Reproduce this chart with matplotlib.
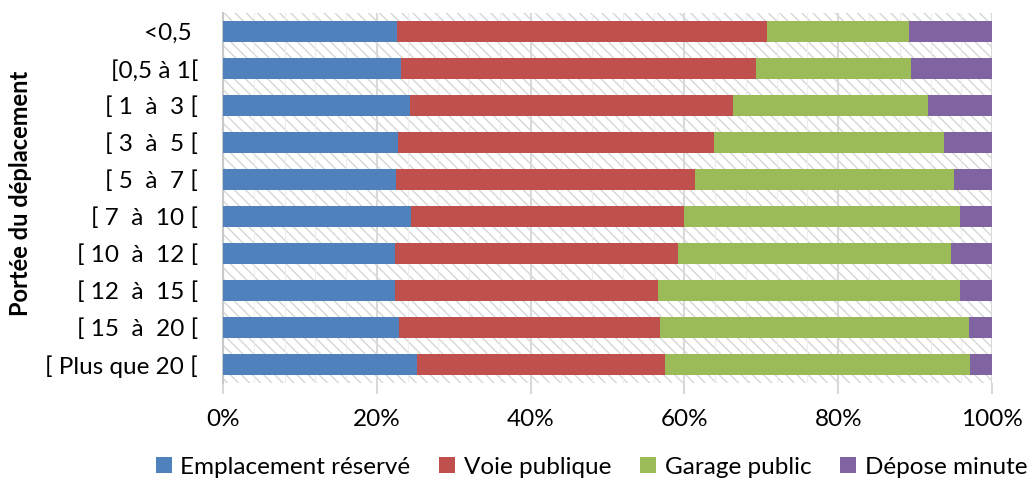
import matplotlib
matplotlib.use("Agg")
import matplotlib.pyplot as plt
from matplotlib.patches import Patch, Rectangle
from matplotlib.ticker import MultipleLocator, PercentFormatter
import numpy as np

plt.rcParams['font.family'] = ['Lato', 'DejaVu Sans']
plt.rcParams['hatch.linewidth'] = 1.0

# categories, top to bottom
categories = ['<0,5 ', '[0,5 à 1[', '[ 1  à  3 [', '[ 3  à  5 [', '[ 5  à  7 [',
              '[ 7  à  10 [', '[ 10  à  12 [', '[ 12  à  15 [', '[ 15  à  20 [',
              '[ Plus que 20 [']

# shares in %
emplacement = [22.6, 23.1, 24.3, 22.8, 22.5, 24.5, 22.4, 22.3, 22.9, 25.2]
voie = [48.1, 46.2, 42.0, 41.0, 38.9, 35.4, 36.8, 34.2, 33.9, 32.3]
garage = [18.5, 20.2, 25.4, 30.0, 33.7, 36.0, 35.5, 39.4, 40.2, 39.6]
depose = [10.8, 10.5, 8.3, 6.2, 4.9, 4.1, 5.3, 4.1, 3.0, 2.9]

series = ['Emplacement réservé', 'Voie publique', 'Garage public', 'Dépose minute']
colors = ['#4F81BD', '#C0504D', '#9BBB59', '#8064A2']

fig = plt.figure(figsize=(10.34, 4.79), dpi=100)
ax = fig.add_axes([0.2157, 0.2004, 0.9594 - 0.2157, 0.9729 - 0.2004])

# hatched background
ax.add_patch(Rectangle((0, 0), 1, 1, transform=ax.transAxes, facecolor='white',
                       edgecolor='#d6d6d6', hatch='\\\\\\', lw=0, zorder=0))

y = np.arange(len(categories))
left = np.zeros(len(categories))
for vals, name, c in zip([emplacement, voie, garage, depose], series, colors):
    ax.barh(y, vals, left=left, height=0.57, color=c, label=name, zorder=3)
    left += np.array(vals)

ax.set_xlim(0, 100)
ax.set_ylim(len(categories) - 0.5, -0.5)
ax.set_yticks(y)
ax.set_yticklabels(categories, fontsize=17.5)
ax.tick_params(axis='y', length=0, pad=18)

ax.xaxis.set_major_locator(MultipleLocator(20))
ax.xaxis.set_minor_locator(MultipleLocator(4))
ax.xaxis.set_major_formatter(PercentFormatter(decimals=0))
ax.tick_params(axis='x', which='major', length=8, width=1.5, color='#d9d9d9',
               labelsize=17.5, pad=11)
ax.tick_params(axis='x', which='minor', length=0)
ax.grid(axis='x', which='major', color='#d9d9d9', lw=1.5, zorder=1)
ax.grid(axis='x', which='minor', color='#eeeeee', lw=0.8, zorder=1)
ax.set_axisbelow(True)

for s in ['top', 'right', 'bottom']:
    ax.spines[s].set_visible(False)
ax.spines['left'].set_color('#c8c8c8')
ax.spines['left'].set_linewidth(1.5)

fig.text(0.02, 0.597, 'Portée du déplacement', rotation=90, ha='center', va='center',
         fontsize=17, fontweight='bold')

handles = [Patch(facecolor=c) for c in colors]
fig.legend(handles, series, loc='center', bbox_to_anchor=(0.572, 0.025), ncol=4,
           frameon=False, fontsize=17.5, handlelength=0.65, handleheight=0.65,
           handletextpad=0.35, columnspacing=1.2)

fig.savefig('out.png', dpi=100)
